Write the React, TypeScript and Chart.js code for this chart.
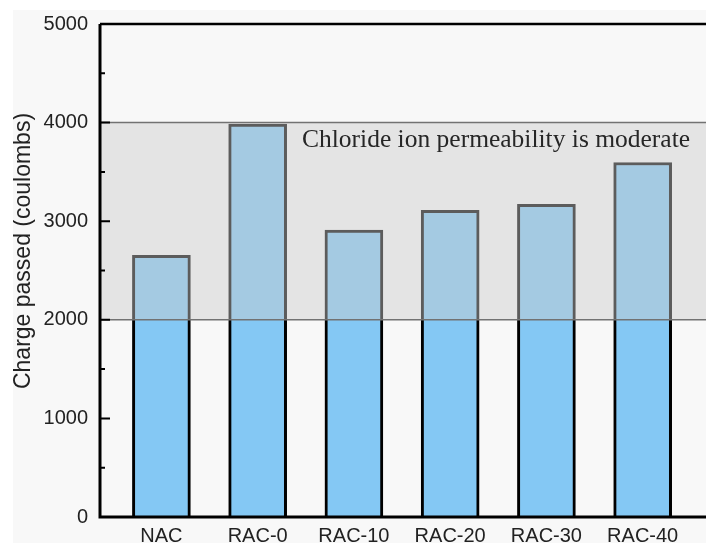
import React, { useEffect, useRef } from "react";
import { Chart, registerables } from "chart.js";

Chart.register(...registerables);

// Rapid chloride permeability results per mix
const categories = ["NAC", "RAC-0", "RAC-10", "RAC-20", "RAC-30", "RAC-40"];
const chargePassed = [2655, 3985, 2910, 3110, 3170, 3595];
const yMin = 0;
const yMax = 5000;
const yStep = 1000;
const yMinorStep = 500;
// "Moderate" permeability class bounds (coulombs)
const moderateRange = [2000, 4000];
const bandLabel = "Chloride ion permeability is moderate";
const yTitle = "Charge passed (coulombs)";

const SANS = "'Liberation Sans', Arial, sans-serif";
const SERIF = "'Liberation Serif', 'Times New Roman', serif";

const overlayPlugin = {
  id: "overlays",
  afterDatasetsDraw(chart: any) {
    const { ctx, chartArea } = chart;
    const y = chart.scales.y;
    const yTop = y.getPixelForValue(moderateRange[1]);
    const yBot = y.getPixelForValue(moderateRange[0]);
    ctx.save();
    // translucent band laid over the bars
    ctx.fillStyle = "rgba(204,204,204,0.45)";
    ctx.fillRect(chartArea.left, yTop, chartArea.right - chartArea.left, yBot - yTop);
    ctx.strokeStyle = "#727272";
    ctx.lineWidth = 1.5;
    ctx.beginPath();
    ctx.moveTo(chartArea.left, yTop);
    ctx.lineTo(chartArea.right, yTop);
    ctx.moveTo(chartArea.left, yBot);
    ctx.lineTo(chartArea.right, yBot);
    ctx.stroke();
    ctx.restore();
  },
  afterDraw(chart: any) {
    const { ctx, chartArea } = chart;
    const y = chart.scales.y;
    ctx.save();
    // frame: left axis, bottom axis, top border
    ctx.strokeStyle = "#000";
    ctx.lineWidth = 3;
    ctx.beginPath();
    ctx.moveTo(chartArea.left, chartArea.top);
    ctx.lineTo(chartArea.left, chartArea.bottom);
    ctx.lineTo(chartArea.right, chartArea.bottom);
    ctx.stroke();
    ctx.lineWidth = 2.5;
    ctx.beginPath();
    ctx.moveTo(chartArea.left, chartArea.top);
    ctx.lineTo(chartArea.right, chartArea.top);
    ctx.stroke();
    // inward major / minor ticks on the y axis
    ctx.lineWidth = 2;
    ctx.beginPath();
    for (let v = yMin; v <= yMax; v += yMinorStep) {
      const py = y.getPixelForValue(v);
      const len = v % yStep === 0 ? 10 : 5;
      ctx.moveTo(chartArea.left, py);
      ctx.lineTo(chartArea.left + len, py);
    }
    ctx.stroke();
    // band annotation
    ctx.fillStyle = "#262626";
    ctx.font = `25.5px ${SERIF}`;
    ctx.textAlign = "left";
    ctx.textBaseline = "alphabetic";
    ctx.fillText(bandLabel, 302, 147);
    // y axis title
    ctx.translate(29.5, 251);
    ctx.rotate(-Math.PI / 2);
    ctx.font = `23px ${SANS}`;
    ctx.fillStyle = "#222";
    ctx.textAlign = "center";
    ctx.fillText(yTitle, 0, 0);
    ctx.restore();
  },
};

export default function App() {
  const canvasRef = useRef<HTMLCanvasElement | null>(null);

  useEffect(() => {
    const canvas = canvasRef.current;
    if (!canvas) return;
    const chart = new Chart(canvas, {
      type: "bar",
      data: {
        datasets: [
          {
            data: chargePassed.map((v, i) => ({ x: i, y: v })),
            backgroundColor: "rgb(132,200,244)",
            borderColor: "#000",
            borderWidth: 3,
            borderSkipped: "start",
            barThickness: 58,
          },
        ],
      },
      options: {
        responsive: false,
        animation: false,
        devicePixelRatio: 1,
        layout: { padding: { top: 21, right: 0, bottom: 0, left: 0 } },
        plugins: {
          legend: { display: false },
          tooltip: { enabled: false },
        },
        scales: {
          x: {
            type: "linear",
            offset: false,
            min: -0.638,
            max: 5.658,
            grid: { display: false, drawTicks: false },
            border: { display: false },
            afterBuildTicks: (scale: any) => {
              scale.ticks = categories.map((_, i) => ({ value: i }));
            },
            afterFit: (scale: any) => {
              scale.height = 33;
            },
            ticks: {
              autoSkip: false,
              maxRotation: 0,
              padding: 7,
              color: "#222",
              font: { family: SANS, size: 20 },
              callback: (v: any) => categories[Math.round(Number(v))] ?? "",
            },
          },
          y: {
            type: "linear",
            min: yMin,
            max: yMax,
            grid: { display: false, drawTicks: false },
            border: { display: false },
            afterFit: (scale: any) => {
              scale.width = 100;
            },
            ticks: {
              stepSize: yStep,
              padding: 12,
              color: "#222",
              font: { family: SANS, size: 20 },
              callback: (v: any) => String(v),
            },
          },
        },
      },
      plugins: [overlayPlugin],
    } as any);
    return () => chart.destroy();
  }, []);

  return (
    <div
      style={{
        position: "fixed",
        left: 0,
        top: 0,
        width: 706,
        height: 550,
        background: "#fff",
        overflow: "hidden",
      }}
    >
      <div
        style={{
          position: "absolute",
          left: 13,
          top: 10,
          width: 693,
          height: 533,
          background: "#f8f8f8",
          overflow: "hidden",
        }}
      >
        <canvas
          ref={canvasRef}
          width={706}
          height={550}
          style={{ position: "absolute", left: -13, top: -10 }}
        />
      </div>
    </div>
  );
}
